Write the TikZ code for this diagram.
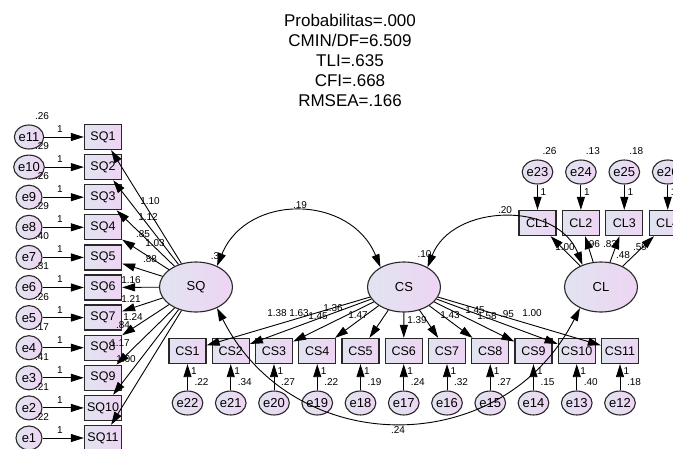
\documentclass[tikz,border=0pt]{standalone}
\usepackage{fontspec}
\setmainfont{Liberation Sans}
\usetikzlibrary{shapes.geometric,arrows.meta}
\definecolor{fillA}{RGB}{225,228,240}
\definecolor{fillB}{RGB}{238,212,243}
\definecolor{edgec}{RGB}{40,40,40}
\begin{document}
\begin{tikzpicture}[x=1pt,y=-1pt,
 obsbox/.style={rectangle,draw=edgec,line width=1.3pt,minimum width=37pt,minimum height=25pt,inner sep=0pt,left color=fillA,right color=fillB,font=\fontsize{12.5}{14}\selectfont},
 errc/.style={ellipse,draw=edgec,line width=1.1pt,minimum width=26pt,minimum height=24pt,inner sep=0pt,left color=fillA,right color=fillB,font=\fontsize{13}{14}\selectfont},
 latv/.style={ellipse,draw=edgec,line width=1.1pt,minimum width=73pt,minimum height=50pt,inner sep=0pt,left color=fillA,right color=fillB,font=\fontsize{13}{14}\selectfont},
 lbl/.style={inner sep=0pt,font=\fontsize{10}{11}\selectfont},
 arw/.style={draw=black,line width=0.9pt,-{Triangle[length=13pt,width=8pt]}},
 covarw/.style={draw=black,line width=0.9pt,{Triangle[length=13pt,width=8pt]}-{Triangle[length=13pt,width=8pt]}},
]
\useasboundingbox (0,0) rectangle (673,448);
\fill[white] (0,0) rectangle (673,448);

\node[font=\fontsize{17}{20}\selectfont, align=center] (title) at (350,60.5) {Probabilitas=.000\\CMIN/DF=6.509\\TLI=.635\\CFI=.668\\RMSEA=.166};

% SQ indicators
\foreach \k/\v in {1/.26,2/.29,3/.26,4/.29,5/.40,6/.31,7/.26,8/.17,9/.41,10/.21,11/.22}{
 \pgfmathsetmacro\yy{137+30.1*(\k-1)}
 \pgfmathtruncatemacro\ee{12-\k}
 \node[obsbox] (SQ\k) at (103,\yy) {SQ\k};
 \node[errc] (eS\k) at (29,\yy) {e\ee};
 \node[lbl] at (42,\yy-21) {\v};
 \node[lbl] at (60,\yy-8) {1};
}
% CS indicators
\foreach \i/\v in {1/.22,2/.34,3/.27,4/.22,5/.19,6/.24,7/.32,8/.27,9/.15,10/.40,11/.18}{
 \pgfmathsetmacro\xx{187.5+43.25*(\i-1)}
 \pgfmathtruncatemacro\ee{23-\i}
 \node[obsbox] (CS\i) at (\xx,351) {CS\i};
 \node[errc] (eC\i) at (\xx,403) {e\ee};
 \node[lbl] at (\xx+6.5,371) {1};
 \node[lbl] at (\xx+14,382) {\v};
}
% CL indicators
\foreach \j/\v in {1/.26,2/.13,3/.18,4/{}}{
 \pgfmathsetmacro\xx{537.5+43.4*(\j-1)}
 \pgfmathtruncatemacro\ee{22+\j}
 \node[obsbox] (CL\j) at (\xx,223) {CL\j};
 \node[errc] (eL\j) at (\xx,172) {e\ee};
 \node[lbl] at (\xx+12,151) {\v};
 \node[lbl] at (\xx+6,192) {1};
}

% latents
\node[latv] (SQ) at (196,287) {SQ};
\node[latv] (CS) at (404,287) {CS};
\node[latv] (CL) at (601,287) {CL};
\node[lbl] at (215,256) {.3};
\node[lbl] at (424.6,254) {.10};
\node[lbl] at (623,255) {.48};

% loading labels
\foreach \p/\t in {{(150,201)}/1.10,{(148,217)}/1.12,{(143,234)}/.85,{(155,243)}/1.03,{(150,259)}/.88,{(131,280)}/1.16,{(131,299)}/1.21,{(133,317)}/1.24,{(123,325)}/.84,{(120,343)}/1.17,{(126,359)}/1.00}
 \node[lbl] at \p {\t};
\foreach \p/\t in {{(277,313)}/1.38,{(299,313)}/1.63,{(333,308)}/1.36,{(318,316)}/1.45,{(358,315)}/1.47,{(417,320)}/1.39,{(450,315)}/1.43,{(475,310)}/1.45,{(487,316)}/1.58,{(507,314)}/.95,{(532,313)}/1.00}
 \node[lbl] at \p {\t};
\foreach \p/\t in {{(565,247)}/1.00,{(593,244)}/.96,{(610,244)}/.83,{(640,247)}/.59}
 \node[lbl] at \p {\t};

% covariance labels
\node[lbl] (c1) at (300,205) {.19};
\node[lbl] (c2) at (505,210) {.20};
\node[lbl] (c3) at (398,430) {.24};

% arrows
\foreach \k in {1,...,11}{
 \draw[arw] (eS\k) -- (SQ\k);
 \draw[arw] (SQ) -- (SQ\k);
}
\foreach \i in {1,...,11}{
 \draw[arw] (eC\i) -- (CS\i);
 \draw[arw] (CS) -- (CS\i);
}
\foreach \j in {1,...,4}{
 \draw[arw] (eL\j) -- (CL\j);
 \draw[arw] (CL) -- (CL\j);
}

% covariances
\draw[covarw] (SQ.45) .. controls +(30,-73) and +(-30,-73) .. (CS.140);
\draw[covarw] (CS.40) .. controls +(25,-64) and +(-25,-64) .. (CL.130);
\draw[covarw] (SQ.-45) .. controls +(77,152) and +(-77,152) .. (CL.-135);
\end{tikzpicture}
\end{document}
